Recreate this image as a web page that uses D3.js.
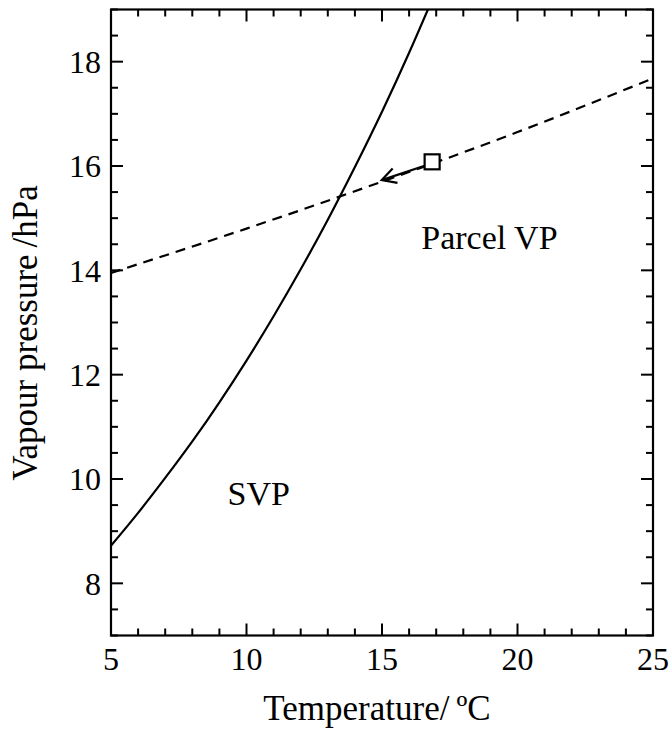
<!DOCTYPE html>
<html>
<head>
<meta charset="utf-8">
<script src="https://cdn.jsdelivr.net/npm/d3@7"></script>
<style>
  body { margin: 0; background: #fff; }
  text { font-family: "Liberation Serif", "DejaVu Serif", serif; fill: #000; }
</style>
</head>
<body>
<div id="chart"></div>
<script>
        const width = 670;
        const height = 731;

        // SVP curve
        const svpTemps = [5, 6, 7, 8, 9, 10, 11, 12, 13, 14, 15, 16, 17];
        const svpValues = [8.72, 9.35, 10.02, 10.72, 11.47, 12.27, 13.12, 14.02, 14.97, 15.98, 17.04, 18.17, 19.37];

        // Parcel vapour pressure (dashed)
        const parcelTemps = [5, 10, 15, 20, 25];
        const parcelValues = [13.95, 14.8, 15.7, 16.65, 17.68];

        // parcel marker and arrow
        const parcelPoint = { t: 16.85, vp: 16.08 };
        const arrowTip = { t: 14.99, vp: 15.73 };

        const xTicks = [5, 10, 15, 20, 25];
        const yTicks = [8, 10, 12, 14, 16, 18];

        const labels = [
            { text: "SVP", t: 9.3, vp: 9.5 },
            { text: "Parcel VP", t: 16.45, vp: 14.4 }
        ];

        const margin = { left: 111, right: 17, top: 9.5, bottom: 95.5 };

        const x = d3.scaleLinear().domain([5, 25]).range([margin.left, width - margin.right]);
        const y = d3.scaleLinear().domain([7, 19]).range([height - margin.bottom, margin.top]);

        const svg = d3.select("#chart").append("svg")
            .attr("width", width)
            .attr("height", height);

        svg.append("defs").append("clipPath").attr("id", "plot-clip")
            .append("rect")
            .attr("x", x(5)).attr("y", y(19))
            .attr("width", x(25) - x(5)).attr("height", y(7) - y(19));

        // ticks on all four sides, pointing inward
        const minorX = d3.range(5, 25.01, 1);
        const minorY = d3.range(7, 19.01, 0.5);
        const tickG = svg.append("g").attr("stroke", "#000").attr("stroke-width", 2);

        minorX.forEach(t => {
            const len = (t % 5 === 0) ? 12 : 7;
            tickG.append("line").attr("x1", x(t)).attr("x2", x(t)).attr("y1", y(7)).attr("y2", y(7) - len);
            tickG.append("line").attr("x1", x(t)).attr("x2", x(t)).attr("y1", y(19)).attr("y2", y(19) + len);
        });
        minorY.forEach(v => {
            const len = (v % 2 === 0) ? 12 : 7;
            tickG.append("line").attr("y1", y(v)).attr("y2", y(v)).attr("x1", x(5)).attr("x2", x(5) + len);
            tickG.append("line").attr("y1", y(v)).attr("y2", y(v)).attr("x1", x(25)).attr("x2", x(25) - len);
        });

        svg.append("rect")
            .attr("x", x(5)).attr("y", y(19))
            .attr("width", x(25) - x(5)).attr("height", y(7) - y(19))
            .attr("fill", "none").attr("stroke", "#000").attr("stroke-width", 2.2);

        // tick labels
        svg.append("g").selectAll("text").data(xTicks).join("text")
            .attr("x", d => x(d)).attr("y", 670)
            .attr("text-anchor", "middle")
            .attr("font-size", 32)
            .text(d => d);

        svg.append("g").selectAll("text").data(yTicks).join("text")
            .attr("x", x(5) - 10).attr("y", d => y(d))
            .attr("dy", "0.35em")
            .attr("text-anchor", "end")
            .attr("font-size", 32)
            .text(d => d);

        // axis titles
        svg.append("text")
            .attr("x", 377).attr("y", 720)
            .attr("text-anchor", "middle")
            .attr("font-size", 35)
            .text("Temperature/\u2009\u00baC");

        svg.append("text")
            .attr("transform", `translate(37, 333) rotate(-90)`)
            .attr("text-anchor", "middle")
            .attr("font-size", 35)
            .text("Vapour pressure\u2009/hPa");

        // curves
        const plot = svg.append("g").attr("clip-path", "url(#plot-clip)");

        const line = d3.line()
            .x(d => x(d[0]))
            .y(d => y(d[1]))
            .curve(d3.curveNatural);

        plot.append("path")
            .datum(d3.zip(svpTemps, svpValues))
            .attr("d", line)
            .attr("fill", "none")
            .attr("stroke", "#000")
            .attr("stroke-width", 2.2);

        plot.append("path")
            .datum(d3.zip(parcelTemps, parcelValues))
            .attr("d", line)
            .attr("fill", "none")
            .attr("stroke", "#000")
            .attr("stroke-width", 2.2)
            .attr("stroke-dasharray", "10,7");

        // arrow from the parcel box towards the SVP curve
        const px = x(parcelPoint.t), py = y(parcelPoint.vp);
        const tx = x(arrowTip.t), ty = y(arrowTip.vp);
        const sx = px - 7.5, sy = py + 4;
        const ang = Math.atan2(ty - sy, tx - sx);
        const headLen = 16, spread = 0.5;

        svg.append("line")
            .attr("x1", sx).attr("y1", sy)
            .attr("x2", tx).attr("y2", ty)
            .attr("stroke", "#000").attr("stroke-width", 2.2);

        svg.append("path")
            .attr("d", `M${tx - headLen * Math.cos(ang - spread)},${ty - headLen * Math.sin(ang - spread)}` +
                       `L${tx},${ty}` +
                       `L${tx - headLen * Math.cos(ang + spread)},${ty - headLen * Math.sin(ang + spread)}`)
            .attr("fill", "none").attr("stroke", "#000").attr("stroke-width", 2.2);

        svg.append("rect")
            .attr("x", px - 7.5).attr("y", py - 7.5)
            .attr("width", 15).attr("height", 15)
            .attr("fill", "#fff").attr("stroke", "#000").attr("stroke-width", 2.2);

        // curve labels
        svg.append("g").selectAll("text").data(labels).join("text")
            .attr("x", d => x(d.t)).attr("y", d => y(d.vp))
            .attr("font-size", 34)
            .text(d => d.text);
</script>
</body>
</html>
